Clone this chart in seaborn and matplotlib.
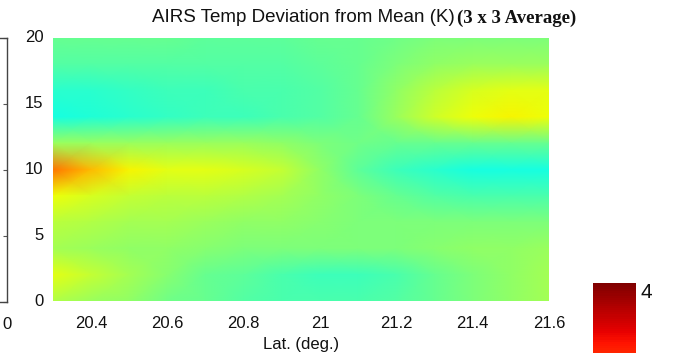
import numpy as np
import pandas as pd
import matplotlib
matplotlib.use("Agg")
import matplotlib.pyplot as plt
import seaborn as sns

# ---- data (K) ----
lat_cols = [20.3, 20.4, 20.5, 20.6, 20.7, 20.8, 20.9, 21.0, 21.1, 21.2, 21.3, 21.4, 21.5, 21.6]
alt_rows = [20, 18, 16, 14, 12, 10, 8, 6, 4, 2, 0]
row_20 = [-0.2, -0.2, -0.2, -0.2, -0.3, -0.3, -0.3, -0.2, -0.2, -0.1, 0.0, 0.0, 0.0, 0.0]
row_18 = [-0.4, -0.4, -0.4, -0.4, -0.4, -0.4, -0.4, -0.3, -0.2, 0.0, 0.2, 0.3, 0.3, 0.3]
row_16 = [-0.8, -0.8, -0.7, -0.6, -0.6, -0.5, -0.5, -0.4, -0.2, 0.2, 0.6, 0.9, 1.0, 1.0]
row_14 = [-1.0, -0.9, -0.8, -0.7, -0.6, -0.6, -0.5, -0.4, -0.2, 0.3, 0.8, 1.1, 1.2, 1.1]
row_12 = [0.3, 0.3, 0.3, 0.3, 0.3, 0.3, 0.2, 0.0, -0.1, -0.2, -0.2, -0.2, -0.2, -0.2]
row_10 = [2.3, 1.7, 1.2, 1.0, 1.0, 0.9, 0.7, 0.2, -0.3, -0.6, -0.8, -1.0, -1.0, -1.0]
row_8 = [1.1, 0.9, 0.7, 0.6, 0.6, 0.5, 0.4, 0.2, 0.0, -0.2, -0.4, -0.5, -0.5, -0.5]
row_6 = [0.6, 0.5, 0.4, 0.4, 0.3, 0.2, 0.2, 0.1, 0.0, 0.0, 0.0, 0.0, 0.0, 0.0]
row_4 = [0.4, 0.3, 0.2, 0.2, 0.1, 0.0, 0.0, 0.0, 0.0, 0.0, 0.1, 0.2, 0.2, 0.3]
row_2 = [1.0, 0.7, 0.4, 0.1, -0.2, -0.3, -0.5, -0.6, -0.6, -0.5, -0.2, 0.0, 0.2, 0.4]
row_0 = [0.5, 0.3, 0.2, -0.1, -0.2, -0.4, -0.5, -0.5, -0.5, -0.4, -0.2, 0.0, 0.2, 0.4]

x_ticks = [20.4, 20.6, 20.8, 21.0, 21.2, 21.4, 21.6]
x_ticklabels = ["20.4", "20.6", "20.8", "21", "21.2", "21.4", "21.6"]
y_ticks = [0, 5, 10, 15, 20]
y_ticklabels = ["0", "5", "10", "15", "20"]
vmin, vmax = -4, 4
cbar_ticks = [4]

title_main = "AIRS Temp Deviation from Mean (K)"
title_extra = "(3 x 3 Average)"
xlabel = "Lat. (deg.)"

df = pd.DataFrame([row_20, row_18, row_16, row_14, row_12, row_10, row_8,
                   row_6, row_4, row_2, row_0], index=alt_rows, columns=lat_cols)

sns.set_style("white")
plt.rcParams["font.family"] = ["Liberation Sans", "DejaVu Sans"]

W, H = 677, 353
fig = plt.figure(figsize=(W / 100, H / 100), dpi=100)

def box(l, t, r, b):
    return [l / W, (H - b) / H, (r - l) / W, (b - t) / H]

TS = 12
TC = "#111111"

# partial left panel (mostly off-canvas)
axl = fig.add_axes(box(-200, 38, 7, 302))
axl.set_xlim(-10, 0)
axl.set_ylim(0, 20)
axl.set_xticks([0])
axl.set_xticklabels(["0"])
axl.set_yticks(y_ticks)
axl.tick_params(axis="y", which="both", left=False, right=True, labelleft=False,
                direction="in", length=3, width=0.8, color="#555555")
axl.tick_params(axis="x", length=0, pad=11, labelsize=TS, colors=TC)
for s in axl.spines.values():
    s.set_color("#444444")
    s.set_linewidth(1.0)

# main heatmap
ax = fig.add_axes(box(53, 38, 549, 301))
sns.heatmap(df, ax=ax, cmap="jet", vmin=vmin, vmax=vmax, cbar=False,
            shading="gouraud")
ax.set_xlim(0, len(lat_cols) - 1)
ax.set_ylim(len(alt_rows) - 1, 0)
idx_x = np.interp(x_ticks, lat_cols, np.arange(len(lat_cols)))
idx_y = np.interp(y_ticks, alt_rows[::-1], np.arange(len(alt_rows))[::-1])
ax.set_xticks(idx_x)
ax.set_xticklabels(x_ticklabels, rotation=0)
ax.set_yticks(idx_y)
ax.set_yticklabels(y_ticklabels, rotation=0)
ax.tick_params(axis="x", length=0, pad=11, labelsize=TS, colors=TC)
ax.tick_params(axis="y", length=0, pad=7, labelsize=TS, colors=TC)
ax.set_xlabel(xlabel, fontsize=TS, labelpad=4, color=TC)
ax.set_ylabel("")

# colorbar fragment
cax = fig.add_axes(box(593, 283, 636, 283 + 536))
sm = plt.cm.ScalarMappable(cmap="jet", norm=plt.Normalize(vmin, vmax))
cb = fig.colorbar(sm, cax=cax, ticks=cbar_ticks)
cb.outline.set_visible(False)
cax.tick_params(length=0, pad=3, labelsize=15, colors=TC)
for lbl in cax.get_yticklabels():
    lbl.set_va("top")

# title in two fonts
fig.text(455 / W, (H - 18) / H, title_main, ha="right", va="center",
         fontsize=13.5, color=TC)
fig.text(457 / W, (H - 18) / H, title_extra, ha="left", va="center",
         fontsize=13.5, fontweight="bold", family=["Liberation Serif", "DejaVu Serif"],
         color=TC)

fig.savefig("out.png", dpi=100)
